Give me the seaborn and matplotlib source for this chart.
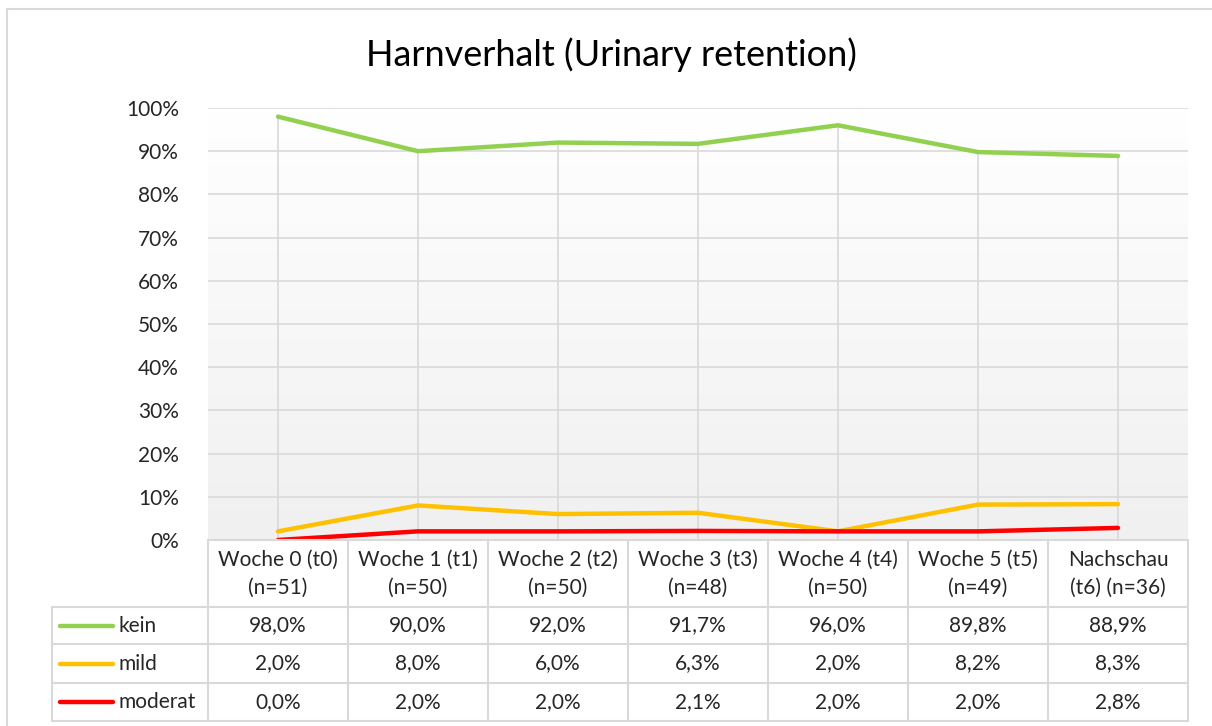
import matplotlib
matplotlib.use('Agg')
import matplotlib.pyplot as plt
import matplotlib.transforms as mtransforms
from matplotlib.lines import Line2D
from matplotlib.colors import LinearSegmentedColormap
import numpy as np
import pandas as pd
import seaborn as sns

# Daten
zeitpunkte = ['Woche 0 (t0)\n(n=51)', 'Woche 1 (t1)\n(n=50)', 'Woche 2 (t2)\n(n=50)',
              'Woche 3 (t3)\n(n=48)', 'Woche 4 (t4)\n(n=50)', 'Woche 5 (t5)\n(n=49)',
              'Nachschau\n(t6) (n=36)']
gruppen = ['kein', 'mild', 'moderat']
kein = [98.0, 90.0, 92.0, 91.7, 96.0, 89.8, 88.9]
mild = [2.0, 8.0, 6.0, 6.3, 2.0, 8.2, 8.3]
moderat = [0.0, 2.0, 2.0, 2.1, 2.0, 2.0, 2.8]
farben = ['#92D050', '#FFC000', '#FF0000']
y_ticks = list(range(0, 101, 10))

werte = {'kein': kein, 'mild': mild, 'moderat': moderat}
df = pd.DataFrame([
    {'idx': i, 'Gruppe': g, 'Anteil': werte[g][i]}
    for g in gruppen for i in range(len(zeitpunkte))
])

sns.set_style('white')
plt.rcParams['font.family'] = ['Lato', 'DejaVu Sans']

W, H = 1212, 726
fig = plt.figure(figsize=(W / 100, H / 100), dpi=100)

# Achse in Pixel-Positionen (wie im Excel-Layout)
L, R, T, B = 208, 1188, 108, 540
ax = fig.add_axes([L / W, 1 - B / H, (R - L) / W, (B - T) / H])

grau = '#d9d9d9'
fs = 15

# Hintergrund-Verlauf: oben weiss, unten hellgrau
cmap = LinearSegmentedColormap.from_list('verlauf', ['#ffffff', '#f0f0f0'])
ax.imshow(np.linspace(1, 0, 256).reshape(-1, 1), cmap=cmap, aspect='auto',
          extent=(-0.5, len(zeitpunkte) - 0.5, 0, 100), origin='lower', zorder=0)

# Lotlinien
ax.vlines(range(len(zeitpunkte)), 0, kein, color=grau, lw=1.2, zorder=1)

sns.lineplot(data=df, x='idx', y='Anteil', hue='Gruppe', hue_order=gruppen,
             palette=farben, linewidth=3.2, legend=False, ax=ax, zorder=3,
             solid_capstyle='round')

ax.set_xlim(-0.5, len(zeitpunkte) - 0.5)
ax.set_ylim(0, 100)
ax.set_yticks(y_ticks)
ax.set_yticklabels([f'{t}%' for t in y_ticks], fontsize=fs)
ax.set_xticks([])
ax.set_xlabel('')
ax.set_ylabel('')
ax.tick_params(axis='y', length=0, pad=21)
ax.grid(axis='y', color=grau, lw=1.2, zorder=1)
ax.set_axisbelow(True)
for s in ax.spines.values():
    s.set_visible(False)

fig.text(611 / W, 1 - 55 / H, 'Harnverhalt (Urinary retention)', fontsize=26,
         ha='center', va='center', color='#000000')

# Tabelle
trans = mtransforms.blended_transform_factory(ax.transData, fig.transFigure)
def fy(y):
    return 1 - y / H

def linie(x0, x1, y0, y1, transform):
    fig.add_artist(Line2D([x0, x1], [y0, y1], color=grau, lw=1.5, transform=transform,
                          clip_on=False))

n = len(zeitpunkte)
zeilen = [540, 607, 644, 683, 721]
tab_links = 52

# horizontale Linien
linie(-0.5, n - 0.5, fy(540), fy(540), trans)
for y in zeilen[1:]:
    linie(tab_links / W, R / W, fy(y), fy(y), fig.transFigure)
# vertikale Linien
for k in range(n + 1):
    linie(k - 0.5, k - 0.5, fy(540), fy(721), trans)
linie(tab_links / W, tab_links / W, fy(607), fy(721), fig.transFigure)

# Kopfzeile
for i, z in enumerate(zeitpunkte):
    fig.text(i, fy(574), z, transform=trans, ha='center', va='center', fontsize=fs,
             linespacing=1.5)

# Datenzeilen
for r, g in enumerate(gruppen):
    yc = (zeilen[r + 1] + zeilen[r + 2]) / 2
    fig.add_artist(Line2D([60 / W, 113 / W], [fy(yc), fy(yc)], color=farben[r], lw=3.2,
                          solid_capstyle='round', transform=fig.transFigure))
    fig.text(118 / W, fy(yc), g, ha='left', va='center', fontsize=fs)
    for i, v in enumerate(werte[g]):
        fig.text(i, fy(yc), f'{v:.1f}%'.replace('.', ','), transform=trans,
                 ha='center', va='center', fontsize=fs)

# Rahmen des Diagrammbereichs
fig.add_artist(Line2D([7 / W, 1], [fy(9), fy(9)], color=grau, lw=1.5,
                      transform=fig.transFigure))
fig.add_artist(Line2D([7 / W, 7 / W], [fy(9), 0], color=grau, lw=1.5,
                      transform=fig.transFigure))

fig.savefig('out.png', dpi=100, facecolor='white')
